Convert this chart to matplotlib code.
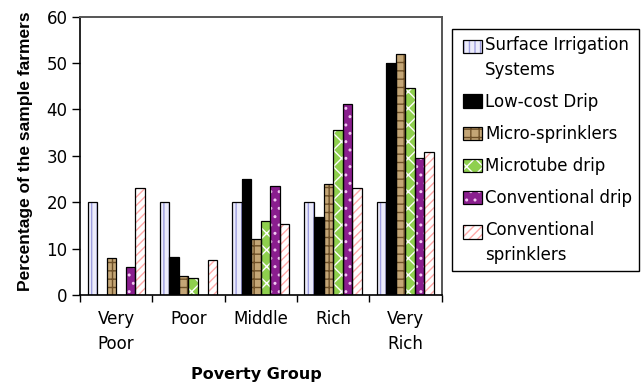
import matplotlib

matplotlib.use("Agg")
import matplotlib.pyplot as plt
import numpy as np
from matplotlib.legend_handler import HandlerBase
from matplotlib.patches import Patch, Rectangle

GROUPS = ["Very\nPoor", "Poor", "Middle", "Rich", "Very\nRich"]
SYSTEMS = [
    "Surface Irrigation\nSystems",
    "Low-cost Drip",
    "Micro-sprinklers",
    "Microtube drip",
    "Conventional drip",
    "Conventional\nsprinklers",
]
surface = [20, 20, 20, 20, 20]
low_cost_drip = [0, 8.3, 25, 16.8, 50]
micro_sprinklers = [8, 4.2, 12, 24, 52]
microtube_drip = [0, 3.6, 16, 35.6, 44.6]
conventional_drip = [6, 0, 23.6, 41.2, 29.6]
conventional_sprinklers = [23, 7.5, 15.4, 23, 30.8]
SERIES = [surface, low_cost_drip, micro_sprinklers, microtube_drip,
          conventional_drip, conventional_sprinklers]

# (face, hatch, hatch colour) per system
STYLES = [
    ("#ececfa", "|||", "#9e9ee0"),
    ("#000000", "", "#000000"),
    ("#c4a676", "++", "#6e5028"),
    ("#8fd04e", "xx", "#ffffff"),
    ("#8a1e8e", "..", "#f2c8f2"),
    ("#ffffff", "////", "#ffaaaa"),
]

LEG_FONT = 12
LEG_LINESPACING = 1.5


class SwatchHandler(HandlerBase):
    """Hatched swatch with a black outline, optionally lifted to the first text line."""

    def __init__(self, lift=0.0, frac=0.8):
        super().__init__()
        self.lift = lift
        self.frac = frac

    def create_artists(self, legend, orig_handle, xdescent, ydescent,
                       width, height, fontsize, trans):
        w = width * self.frac
        x0 = -xdescent + width - w
        y0 = -ydescent + self.lift
        fill = Rectangle((x0, y0), w, height,
                         facecolor=orig_handle.get_facecolor(),
                         hatch=orig_handle.get_hatch(),
                         edgecolor=orig_handle.get_edgecolor(),
                         linewidth=0, transform=trans)
        edge = Rectangle((x0, y0), w, height, fill=False,
                         edgecolor="black", linewidth=0.9, transform=trans)
        return [fill, edge]


plt.rcParams.update({"font.size": 12, "hatch.linewidth": 1.0})

fig = plt.figure(figsize=(6.42, 3.86), dpi=100)
ax = fig.add_axes([80 / 642, 1 - 295 / 386, 361.5 / 642, 278.3 / 386])

x = np.arange(len(GROUPS))
width = 0.132
handles = []
for i, (vals, (face, hatch, hcol)) in enumerate(zip(SERIES, STYLES)):
    pos = x + (i - 2.5) * width
    ax.bar(pos, vals, width, color=face, hatch=hatch, edgecolor=hcol, linewidth=0, zorder=2)
    ax.bar(pos, vals, width, fill=False, edgecolor="black", linewidth=0.9, zorder=3)
    handles.append(Patch(facecolor=face, hatch=hatch, edgecolor=hcol, linewidth=0))

ax.set_xlim(-0.5, len(GROUPS) - 0.5)
ax.set_ylim(0, 60)
ax.set_yticks(range(0, 61, 10))
ax.set_xticks(np.arange(len(GROUPS) + 1) - 0.5)
ax.set_xticklabels([])
ax.set_xticks(x, minor=True)
ax.set_xticklabels(GROUPS, minor=True, linespacing=1.45)
ax.tick_params(axis="x", which="major", direction="out", length=5, width=1)
ax.tick_params(axis="x", which="minor", length=0, pad=11)
ax.tick_params(axis="y", direction="out", length=6, width=1, pad=3)

for side in ("left", "bottom"):
    ax.spines[side].set_color("black")
    ax.spines[side].set_linewidth(1.2)
for side in ("top", "right"):
    ax.spines[side].set_color("#555555")
    ax.spines[side].set_linewidth(1.4)

fig.text(26 / 642, 1 - 151 / 386, "Percentage of the sample farmers", rotation=90,
         ha="center", va="center", fontsize=12.5, fontweight="bold",
         family="Liberation Sans")
fig.text(256 / 642, 1 - 375 / 386, "Poverty Group", ha="center", va="center",
         fontsize=11.5, fontweight="bold")

# two-line labels keep their swatch level with the first line
half_step = 0.5 * LEG_LINESPACING * LEG_FONT * 0.97
hmap = {h: SwatchHandler(half_step if "\n" in lbl else 0.0)
        for h, lbl in zip(handles, SYSTEMS)}
leg = fig.legend(handles, SYSTEMS, loc="upper left", handler_map=hmap,
                 bbox_to_anchor=(452 / 642, 1 - 29 / 386), fontsize=LEG_FONT,
                 handlelength=1.4, handleheight=0.85, handletextpad=0.2,
                 borderpad=0.4, labelspacing=0.85, fancybox=False, framealpha=1,
                 edgecolor="black", borderaxespad=0)
leg.get_frame().set_linewidth(1.0)
for t in leg.get_texts():
    t.set_linespacing(LEG_LINESPACING)

fig.savefig("out.png", dpi=100)
